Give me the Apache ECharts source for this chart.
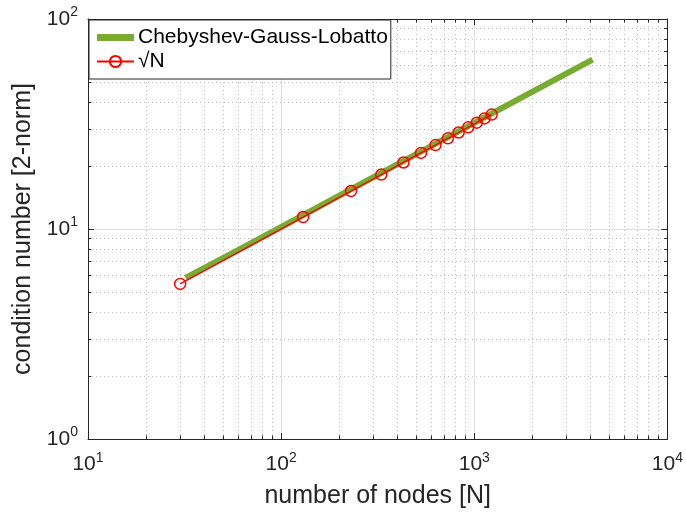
<!DOCTYPE html>
<html>
<head>
<meta charset="utf-8">
<script src="https://cdn.jsdelivr.net/npm/echarts@6/dist/echarts.min.js"></script>
<style>html,body{margin:0;padding:0;background:#fff;}#c{width:686px;height:518px;}</style>
</head>
<body>
<div id="c"></div>
<script>
// ---- data ----
const cglN = [32, 64, 128, 256, 512, 1024, 2048, 4096];
const cglCond = [5.85, 8.2, 11.55, 16.3, 23.0, 32.4, 45.6, 64.0];
const sqrtN = [30, 130, 230, 330, 430, 530, 630, 730, 830, 930, 1030, 1130, 1230];
const sqrtVal = [5.477, 11.402, 15.166, 18.166, 20.736, 23.022, 25.100, 27.019, 28.810, 30.496, 32.094, 33.615, 35.071];
const xMinor = [20,30,40,50,60,70,80,90,200,300,400,500,600,700,800,900,2000,3000,4000,5000,6000,7000,8000,9000];
const yMinor = [2,3,4,5,6,7,8,9,20,30,40,50,60,70,80,90];
const xRange = [10, 10000];
const yRange = [1, 100];
const legendNames = ['Chebyshev-Gauss-Lobatto', '\u221AN'];
const xTitle = 'number of nodes [N]';
const yTitle = 'condition number [2-norm]';

const textColor = '#262626';
const font = 'Liberation Sans, Arial, Helvetica, sans-serif';

function expLabel(v) {
  const e = Math.round(Math.log10(v));
  return '{b|10}{s|' + e + '}';
}
const rich = {
  b: { fontSize: 21, color: textColor, fontFamily: font },
  s: { fontSize: 14, color: textColor, fontFamily: font, padding: [0, 0, 13, 0] }
};

// minor grid lines and minor ticks via markLines (positions through axis scales)
const minorGrid = [];
xMinor.forEach(v => minorGrid.push({ xAxis: v }));
yMinor.forEach(v => minorGrid.push({ yAxis: v }));
const minorTicks = [];
xMinor.forEach(v => {
  minorTicks.push([{ coord: [v, yRange[0]] }, { coord: [v, yRange[0] * 1.04] }]);
  minorTicks.push([{ coord: [v, yRange[1]] }, { coord: [v, yRange[1] / 1.04] }]);
});
yMinor.forEach(v => {
  minorTicks.push([{ coord: [xRange[0], v] }, { coord: [xRange[0] * 1.04, v] }]);
  minorTicks.push([{ coord: [xRange[1], v] }, { coord: [xRange[1] / 1.04, v] }]);
});

const chart = echarts.init(document.getElementById('c'), null, { renderer: 'canvas' });
const axisCommon = {
  type: 'log', logBase: 10,
  axisLine: { show: true, lineStyle: { color: textColor, width: 1 } },
  axisTick: { show: true, inside: true, length: 6, lineStyle: { color: textColor } },
  minorTick: { show: false }
};
chart.setOption({
  animation: false,
  backgroundColor: '#fff',
  grid: { left: 88, right: 18, top: 19, bottom: 79 },
  legend: {
    data: [
      { name: legendNames[0], icon: 'path://M0,0L37,0L37,7L0,7Z' },
      { name: legendNames[1] }
    ],
    orient: 'vertical',
    left: 89, top: 20,
    padding: [7, 3, 7, 7],
    itemGap: 3,
    itemWidth: 37, itemHeight: 14,
    symbolKeepAspect: true,
    backgroundColor: '#fff',
    borderColor: textColor, borderWidth: 1,
    textStyle: { fontSize: 21, color: '#000', fontFamily: font, padding: [0, 0, 0, -1] }
  },
  xAxis: [
    Object.assign({}, axisCommon, {
      min: xRange[0], max: xRange[1], position: 'bottom',
      name: xTitle, nameLocation: 'middle', nameGap: 45,
      nameTextStyle: { fontSize: 25, color: textColor, fontFamily: font },
      axisLabel: { formatter: expLabel, rich: rich, margin: 12 },
      splitLine: { show: true, lineStyle: { color: '#dedede', width: 1 } }
    }),
    Object.assign({}, axisCommon, {
      min: xRange[0], max: xRange[1], position: 'top',
      axisLabel: { show: false }, splitLine: { show: false }
    })
  ],
  yAxis: [
    Object.assign({}, axisCommon, {
      min: yRange[0], max: yRange[1], position: 'left',
      name: yTitle, nameLocation: 'middle', nameGap: 45,
      nameTextStyle: { fontSize: 25, color: textColor, fontFamily: font },
      axisLabel: { formatter: expLabel, rich: rich, margin: 10 },
      splitLine: { show: true, lineStyle: { color: '#dedede', width: 1 } }
    }),
    Object.assign({}, axisCommon, {
      min: yRange[0], max: yRange[1], position: 'right',
      axisLabel: { show: false }, splitLine: { show: false }
    })
  ],
  series: [
    {
      name: 'minor', type: 'line', data: [], silent: true, z: 0,
      markLine: {
        z: 0,
        silent: true, symbol: 'none', animation: false, label: { show: false },
        lineStyle: { color: '#c4c4c4', type: [1, 3], width: 1 },
        data: minorGrid
      }
    },
    {
      name: 'minorTicks', type: 'line', data: [], silent: true, z: 0,
      markLine: {
        z: 0,
        silent: true, symbol: 'none', animation: false, label: { show: false },
        lineStyle: { color: textColor, type: 'solid', width: 1 },
        data: minorTicks
      }
    },
    {
      name: legendNames[0], type: 'line',
      data: cglN.map((n, i) => [n, cglCond[i]]),
      showSymbol: false, symbol: 'none',
      lineStyle: { color: '#77AC30', width: 6 },
      itemStyle: { color: '#77AC30' },
      z: 6
    },
    {
      name: legendNames[1], type: 'line',
      data: sqrtN.map((n, i) => [n, sqrtVal[i]]),
      symbol: 'circle', symbolSize: 11,
      lineStyle: { color: '#ff0000', width: 1.4 },
      itemStyle: { color: 'rgba(255,255,255,0)', borderColor: '#ff0000', borderWidth: 1.5 },
      z: 7
    }
  ]
});
</script>
</body>
</html>
